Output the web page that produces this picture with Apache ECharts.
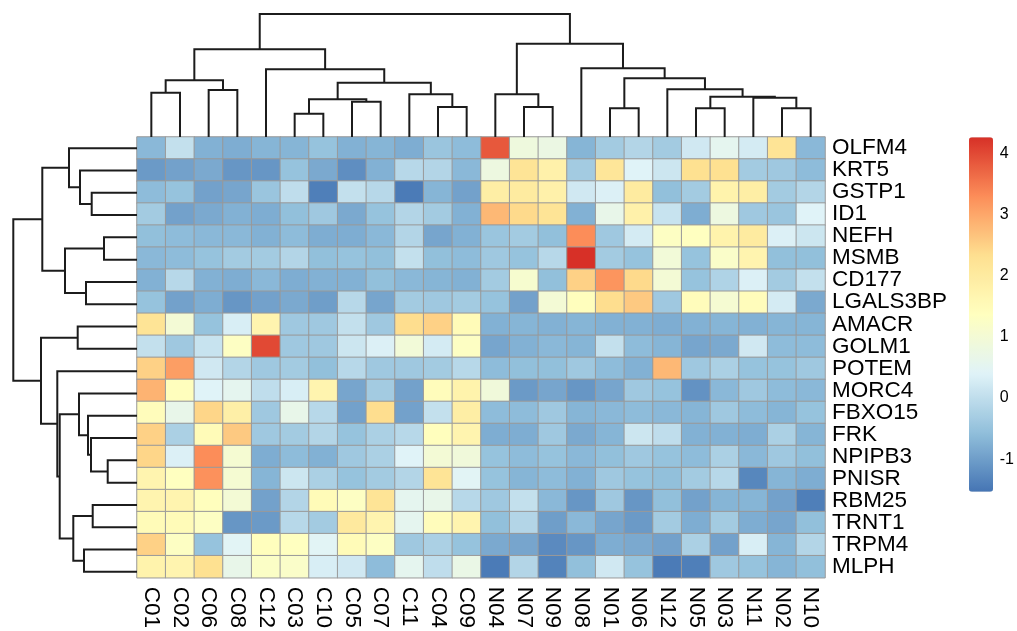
<!DOCTYPE html>
<html>
<head>
<meta charset="utf-8">
<script src="https://cdn.jsdelivr.net/npm/echarts@6/dist/echarts.min.js"></script>
<style>
  html, body { margin: 0; padding: 0; background: #ffffff; }
  #chart { width: 1017px; height: 631px; }
</style>
</head>
<body>
<div id="chart"></div>
<script>
// Sample order along the columns (after clustering)
const samples = ['C01','C02','C06','C08','C12','C03','C10','C05','C07','C11','C04','C09',
                 'N04','N07','N09','N08','N01','N06','N12','N05','N03','N11','N02','N10'];

// Gene order along the rows (after clustering)
const genes = ['OLFM4','KRT5','GSTP1','ID1','NEFH','MSMB','CD177','LGALS3BP','AMACR','GOLM1',
               'POTEM','MORC4','FBXO15','FRK','NPIPB3','PNISR','RBM25','TRNT1','TRPM4','MLPH'];

// Row-scaled expression, one list per gene, values in sample order
const OLFM4    = [-0.65, 0.05,-0.75,-0.8,-0.7,-0.7,-0.5,-0.75,-0.7,-0.8,-0.45,-0.6,  3.85, 0.85, 0.75,-0.7,-0.35,-0.15,-0.35, 0.2, 0.55, 0.25, 2.2,-0.65];
const KRT5     = [-1.05,-0.95,-0.85,-1.1,-1.1,-0.5,-0.85,-1.2,-0.75,-0.1,-0.15,-0.65,  0.8, 2.2, 1.8,-0.35, 2.15, 0.4, 0.15, 2.3, 2.3,-0.35,-0.4,-0.6];
const GSTP1    = [-0.6,-0.5,-0.95,-0.9,-0.45, 0.0,-1.4, 0.05,-0.1,-1.45,-0.7,-0.95,  1.9, 2.0, 1.8, 0.2, 0.35, 2.0,-0.55,-0.35, 1.75, 1.9,-0.35,-0.15];
const ID1      = [-0.35,-0.95,-0.85,-0.75,-0.8,-0.55,-0.4,-0.85,-0.5,-0.15,-0.35,-0.75,  2.8, 2.4, 2.2,-0.75, 0.65, 1.8, 0.1,-0.8, 0.8,-0.4,-0.45, 0.4];
const NEFH     = [-0.55,-0.6,-0.65,-0.65,-0.75,-0.6,-0.8,-0.8,-0.65,-0.15,-0.9,-0.75, -0.45,-0.35,-0.55, 3.3,-0.4, 0.25, 1.3, 1.35, 1.75, 2.0, 0.35, 0.15];
const MSMB     = [-0.65,-0.6,-0.5,-0.35,-0.35,-0.15,-0.55,-0.5,-0.55, 0.05,-0.55,-0.6, -0.4,-0.5,-0.1, 4.26,-0.35,-0.5, 0.95,-0.5, 1.2, 1.7,-0.55,-0.55];
const CD177    = [-0.75,-0.1,-0.75,-0.8,-0.65,-0.8,-0.75,-0.75,-0.55,-0.65,-0.7,-0.75, -0.35, 1.1,-0.55, 2.5, 3.2, 2.4, 1.0,-0.5,-0.2, 0.35,-0.35, 0.05];
const LGALS3BP = [-0.5,-0.95,-0.8,-1.1,-0.95,-0.85,-1.0,-0.1,-0.9,-0.35,-0.4,-0.35, -0.5,-0.95, 1.0, 1.4, 2.35, 2.6,-0.4, 1.45, 1.05, 1.45, 0.25,-0.85];
const AMACR    = [ 2.2, 1.0,-0.5, 0.3, 1.7,-0.4,-0.4, 0.05,-0.4, 2.35, 2.5, 1.5, -0.75,-0.7,-0.75,-0.7,-0.75,-0.75,-0.8,-0.75,-0.7,-0.75,-0.7,-0.7];
const GOLM1    = [ 0.05,-0.4, 0.1, 1.3, 4.0,-0.4,-0.4, 0.15, 0.35, 0.95, 0.25, 1.3, -0.9,-0.75,-0.65,-0.7, 0.05,-0.6,-0.7,-0.9,-0.85, 0.2,-0.6,-0.6];
const POTEM    = [ 2.5, 3.1, 0.2,-0.15,-0.4,-0.35,-0.55,-0.1,-0.4,-0.4,-0.35,-0.1, -0.6,-0.55,-0.55,-0.4,-0.6,-0.75, 2.8,-0.4,-0.25,-0.5,-0.5,-0.4];
const MORC4    = [ 2.85, 1.4, 0.4, 0.55, 0.0, 0.3, 1.7,-0.9,-0.35,-0.95, 1.45, 1.75,  0.9,-1.05,-0.9,-1.1,-0.9,-0.4,-0.5,-1.15,-0.65,-0.4,-0.6,-0.65];
const FBXO15   = [ 1.45, 0.65, 2.45, 1.85,-0.4, 0.65,-0.1,-0.95, 2.35,-0.95, 0.05, 1.9, -0.6,-0.6,-0.4,-0.7,-0.65,-0.6,-0.65,-0.7,-0.4,-0.6,-0.7,-0.5];
const FRK      = [ 2.5,-0.25, 1.5, 2.6,-0.4,-0.35,-0.15,-0.5,-0.25,-0.1, 1.4, 1.7, -0.8,-0.8,-0.4,-0.85,-0.7, 0.15, 0.0,-0.75,-0.75,-0.8,-0.25,-0.7];
const NPIPB3   = [ 2.45, 0.35, 3.3, 1.05,-0.8,-0.6,-0.75,-0.4,-0.25, 0.4, 1.0, 0.9, -0.5,-0.6,-0.5,-0.65,-0.55,-0.4,-0.5,-0.6,-0.25,-0.65,-0.4,-0.55];
const PNISR    = [ 1.7, 1.35, 3.25, 1.05,-0.7, 0.15,-0.25,-0.5,-0.35,-0.15, 2.2, 0.45, -0.5,-0.7,-0.6,-0.75,-0.4,-0.5,-0.55,-0.35,-0.1,-1.3,-0.7,-0.8];
const RBM25    = [ 1.7, 1.7, 1.4, 1.0,-0.95,-0.15, 1.5, 1.3, 2.2, 0.55, 0.65,-0.1, -0.4, 0.05,-0.65,-1.1,-0.4,-1.1,-0.55,-0.95,-0.7,-0.7,-0.95,-1.4];
const TRNT1    = [ 1.5, 1.5, 1.3,-1.1,-1.05,-0.1,-0.35, 2.05, 1.7, 0.55, 1.45, 1.7, -0.55,-0.15,-1.0,-0.65,-0.9,-1.05,-0.35,-0.8,-0.35,-0.8,-0.9,-0.55];
const TRPM4    = [ 2.5, 1.3,-0.5, 0.45, 1.4, 1.35, 0.45, 1.5, 1.3,-0.4,-0.25,-0.5, -0.85,-0.9,-1.25,-1.1,-0.8,-0.85,-0.95,-0.25,-0.95, 0.3,-0.7,-0.15];
const MLPH     = [ 1.75, 1.7, 2.3, 0.65, 1.25, 1.2, 0.3, 0.2,-0.6, 0.55, 0.0, 0.7, -1.45,-0.15,-1.35,-0.55, 0.2,-0.5,-1.45,-1.4,-0.4,-0.5,-0.7,-0.55];

const expression = [OLFM4, KRT5, GSTP1, ID1, NEFH, MSMB, CD177, LGALS3BP, AMACR, GOLM1,
                    POTEM, MORC4, FBXO15, FRK, NPIPB3, PNISR, RBM25, TRNT1, TRPM4, MLPH];

// Column clustering: [left, right, height]; a number refers to an earlier merge
const colMerges = [
  ['C01','C02',44.3], ['C06','C08',47.0], [0,1,56.7],
  ['C03','C10',23.3], ['C05','C07',35.3], [3,4,37.7],
  ['C04','C09',30.0], ['C11',6,42.7], [5,7,54.3],
  ['C12',8,67.7], [2,9,87.7],
  ['N07','N09',30.0], ['N04',11,42.7],
  ['N01','N06',28.7], ['N05','N03',28.7], ['N02','N10',28.7],
  ['N11',15,39.3], [14,16,40.3], ['N12',17,47.7], [13,18,58.7],
  ['N08',19,68.7], [12,20,93.3], [10,21,123.0]
];

// Row clustering, same layout
const rowMerges = [
  ['GSTP1','ID1',45.3], ['KRT5',0,57.0], ['OLFM4',1,68.0],
  ['NEFH','MSMB',33.0], ['CD177','LGALS3BP',51.0], [3,4,72.0], [2,5,94.7],
  ['AMACR','GOLM1',59.3],
  ['NPIPB3','PNISR',29.3], ['FRK',8,46.0], ['FBXO15',9,49.0], ['MORC4',10,58.0],
  ['RBM25','TRNT1',44.3], ['TRPM4','MLPH',53.0], [12,13,63.7],
  [11,14,77.3], ['POTEM',15,79.7], [7,16,96.0], [6,17,123.7]
];

// Colour scale
const legendTicks = [-1, 0, 1, 2, 3, 4];
const scaleMin = -1.53;
const scaleMax = 4.26;
const palette = ['#4575B4','#91BFDB','#E0F3F8','#FFFFBF','#FEE090','#FC8D59','#D73027'];

const FONT = "'Liberation Sans', Arial, Helvetica, sans-serif";

// Turn a merge list into elbow segments: [posA, hA, posB, hB, hMerge]
function treeSegments(order, merges) {
  const pos = {};
  order.forEach((n, i) => { pos[n] = i; });
  const nodes = [];
  const segs = [];
  const ref = r => (typeof r === 'number') ? nodes[r] : { p: pos[r], h: 0 };
  merges.forEach(([a, b, h]) => {
    const A = ref(a), B = ref(b);
    segs.push([A.p, A.h, B.p, B.h, h]);
    nodes.push({ p: (A.p + B.p) / 2, h: h });
  });
  return segs;
}

const cells = [];
expression.forEach((row, r) => row.forEach((v, c) => cells.push([c, r, v])));

const colSegs = treeSegments(samples, colMerges);
const rowSegs = treeSegments(genes, rowMerges);
const colRoot = colMerges[colMerges.length - 1][2];
const rowRoot = rowMerges[rowMerges.length - 1][2];

const treeStyle = { stroke: '#1c1c1c', lineWidth: 2, fill: null };

const chart = echarts.init(document.getElementById('chart'), null, { renderer: 'canvas' });

chart.setOption({
  backgroundColor: '#ffffff',
  animation: false,
  textStyle: { fontFamily: FONT },
  grid: [
    { left: 137, top: 137, width: 688, height: 446 },      // heatmap
    { left: 137, top: 14, width: 688, height: 123 },       // column tree
    { left: 13.3, top: 137, width: 123.7, height: 446 },   // row tree
    { left: 969, top: 137.3, width: 24, height: 354.4 }    // colour key labels
  ],
  xAxis: [
    {
      gridIndex: 0, type: 'category', data: samples, position: 'bottom',
      axisLine: { show: false }, axisTick: { show: false }, splitLine: { show: false },
      axisLabel: { interval: 0, rotate: -90, margin: 9, fontSize: 22.5, color: '#000', fontFamily: FONT }
    },
    { gridIndex: 1, type: 'value', min: -0.5, max: samples.length - 0.5, show: false },
    { gridIndex: 2, type: 'value', min: 0, max: rowRoot, inverse: true, show: false },
    { gridIndex: 3, type: 'value', min: 0, max: 1, show: false }
  ],
  yAxis: [
    {
      gridIndex: 0, type: 'category', data: genes, inverse: true, position: 'right',
      axisLine: { show: false }, axisTick: { show: false }, splitLine: { show: false },
      axisLabel: { interval: 0, margin: 7, fontSize: 22.5, color: '#000', fontFamily: FONT }
    },
    { gridIndex: 1, type: 'value', min: 0, max: colRoot, show: false },
    { gridIndex: 2, type: 'value', min: -0.5, max: genes.length - 0.5, inverse: true, show: false },
    {
      gridIndex: 3, type: 'value', min: scaleMin, max: scaleMax, position: 'right',
      axisLine: { show: false }, axisTick: { show: false }, splitLine: { show: false },
      axisLabel: { customValues: legendTicks, margin: 7, fontSize: 16, color: '#000', fontFamily: FONT }
    }
  ],
  visualMap: {
    type: 'continuous', seriesIndex: 0, min: scaleMin, max: scaleMax,
    orient: 'vertical', left: 969, top: 137.3, itemWidth: 24, itemHeight: 354.4,
    padding: 0, calculable: false, hoverLink: false,
    inRange: { color: palette }
  },
  series: [
    {
      type: 'heatmap', xAxisIndex: 0, yAxisIndex: 0, data: cells,
      itemStyle: { borderColor: '#999999', borderWidth: 1 },
      emphasis: { disabled: true }, progressive: 0
    },
    {
      type: 'custom', xAxisIndex: 1, yAxisIndex: 1, data: colSegs, silent: true,
      renderItem: (params, api) => {
        const pts = [
          api.coord([api.value(0), api.value(1)]),
          api.coord([api.value(0), api.value(4)]),
          api.coord([api.value(2), api.value(4)]),
          api.coord([api.value(2), api.value(3)])
        ];
        return { type: 'polyline', shape: { points: pts }, style: treeStyle };
      }
    },
    {
      type: 'custom', xAxisIndex: 2, yAxisIndex: 2, data: rowSegs, silent: true,
      renderItem: (params, api) => {
        const pts = [
          api.coord([api.value(1), api.value(0)]),
          api.coord([api.value(4), api.value(0)]),
          api.coord([api.value(4), api.value(2)]),
          api.coord([api.value(3), api.value(2)])
        ];
        return { type: 'polyline', shape: { points: pts }, style: treeStyle };
      }
    }
  ]
});
</script>
</body>
</html>
